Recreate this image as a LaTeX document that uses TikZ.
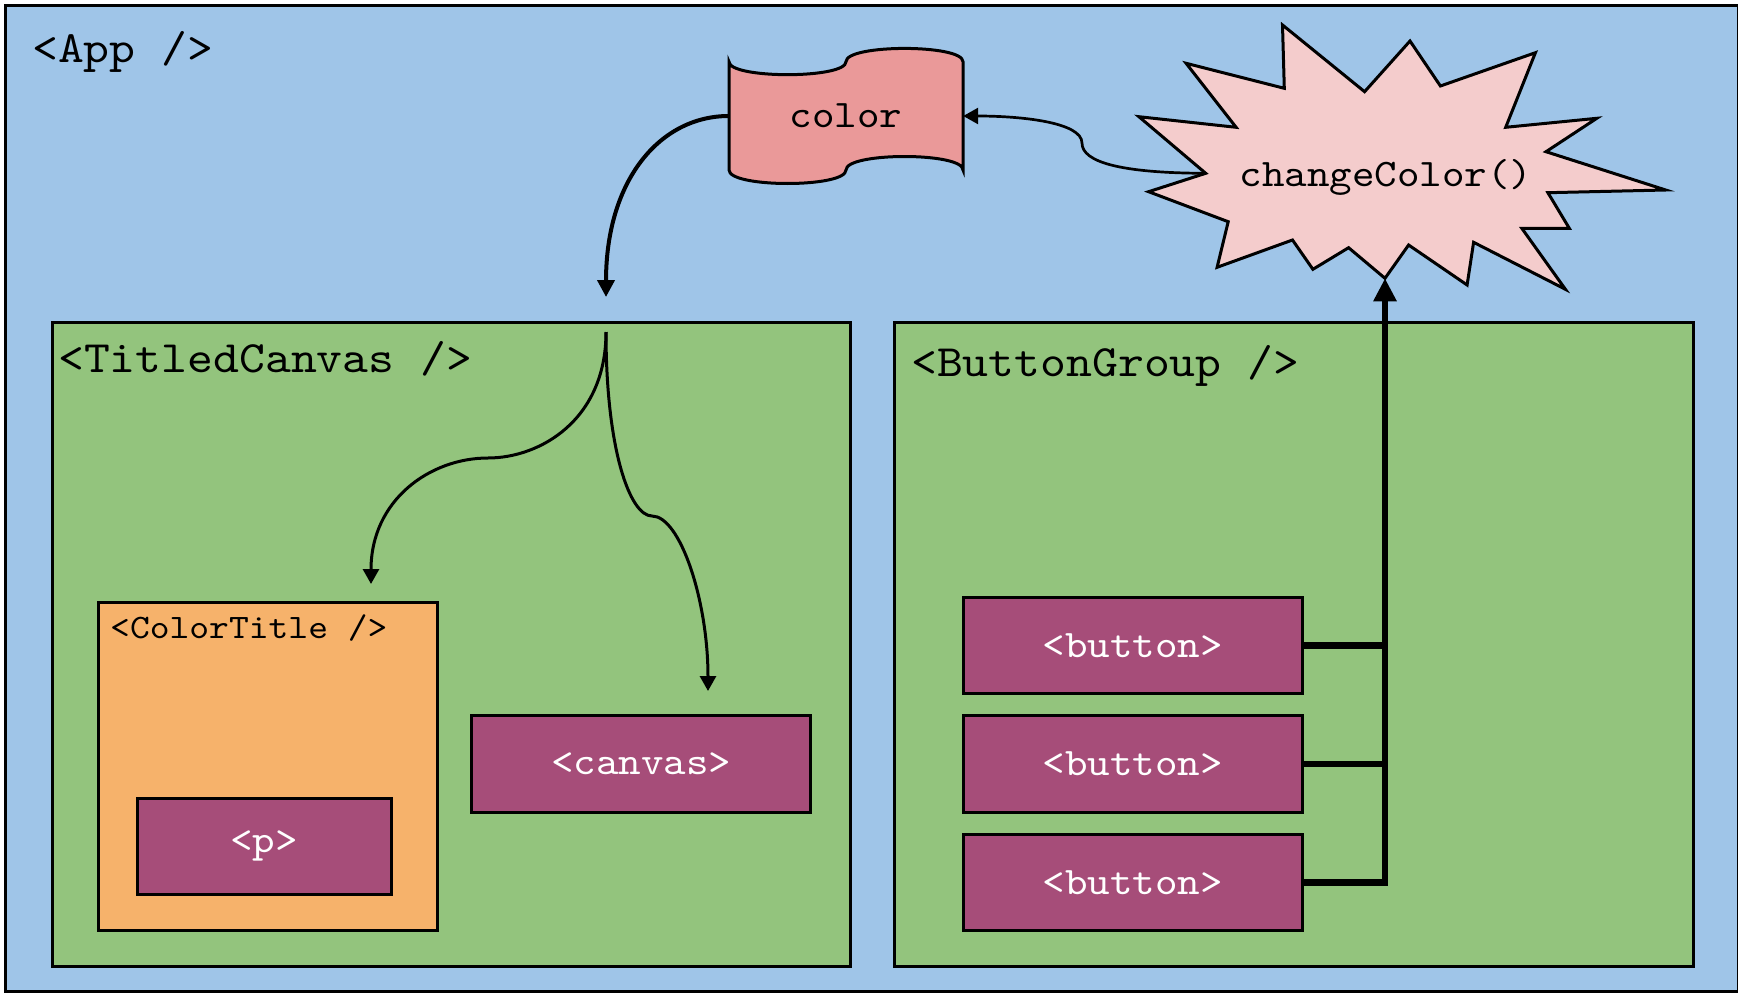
\documentclass[tikz,border=0pt]{standalone}
\usepackage{fontspec}
\setmonofont[FakeStretch=1.1]{lmmono10-regular.otf}
\usetikzlibrary{arrows.meta}

\definecolor{appblue}{HTML}{9FC5E8}
\definecolor{compgreen}{HTML}{93C47D}
\definecolor{titleorange}{HTML}{F6B26B}
\definecolor{elempurple}{HTML}{A64D79}
\definecolor{statered}{HTML}{EA9999}
\definecolor{burstpink}{HTML}{F4CCCC}

\newcommand{\titlefont}{\ttfamily\fontsize{44.8}{52}\selectfont}
\newcommand{\labelfont}{\ttfamily\fontsize{39}{46}\selectfont}
\newcommand{\smalltitlefont}{\ttfamily\fontsize{34.3}{40}\selectfont}

\begin{document}
\begin{tikzpicture}[x=1pt, y=-1pt, line join=miter,
  comp/.style={draw, line width=3pt, anchor=north west, inner sep=0pt},
  elem/.style={draw, line width=3pt, fill=elempurple, text=white, font=\labelfont,
    minimum width=339pt, minimum height=96.5pt, inner sep=0pt},
  comptitle/.style={anchor=base west, inner sep=0pt},
  flow/.style={line width=3pt, -{Triangle[length=15pt,width=16pt]}},
  bus/.style={line width=6.5pt}]
  \useasboundingbox (0,0) rectangle (1738,993);

  % Draw the components
  \node[comp, fill=appblue, minimum width=1733.5pt, minimum height=986pt] (app) at (3.5,4) {};
  \node[comptitle, font=\titlefont] (applbl) at (32,62.7) {<App />};

  \node[comp, fill=compgreen, minimum width=798pt, minimum height=644pt] (tcanvas) at (51,321) {};
  \node[comptitle, font=\titlefont] (tcanvaslbl) at (58,372) {<TitledCanvas />};

  \node[comp, fill=compgreen, minimum width=799pt, minimum height=644pt] (bgroup) at (892.5,321) {};
  \node[comptitle, font=\titlefont] (bgrouplbl) at (911,376) {<ButtonGroup />};

  \node[comp, fill=titleorange, minimum width=338.5pt, minimum height=327.5pt] (ctitle) at (97,601) {};
  \node[comptitle, font=\smalltitlefont] (ctitlelbl) at (110,638.3) {<ColorTitle />};

  % Draw the elements
  \node[elem, minimum width=254pt] (para) at (264,846.3) {<p>};
  \node[elem] (canvas) at (641.4,764) {<canvas>};
  \foreach \y/\n in {645.7/1, 764/2, 882.5/3}
    \node[elem] (btn\n) at (1132.7,\y) {<button>};

  % Draw the state
  \fill[statered] (729,61.7) .. controls (729,79) and (846,79) .. (846,61.7)
    .. controls (846,44) and (963,44) .. (963,61.7) -- (963,170)
    .. controls (963,152) and (846,152) .. (846,170)
    .. controls (846,188) and (729,188) .. (729,170) -- cycle;
  \draw[line width=3pt] (729,61.7) .. controls (729,79) and (846,79) .. (846,61.7)
    .. controls (846,44) and (963,44) .. (963,61.7) -- (963,170)
    .. controls (963,152) and (846,152) .. (846,170)
    .. controls (846,188) and (729,188) .. (729,170) -- cycle;
  \node[font=\labelfont, inner sep=0pt, minimum width=234pt, minimum height=110pt] (color) at (846,116) {color};

  % Draw the handler
  \draw[line width=3pt, fill=burstpink] (1282.5,25) -- (1364.6,91.7) -- (1410,41) -- (1440.4,86)
    -- (1535.4,52.7) -- (1505.7,127.3) -- (1596.8,118.3) -- (1546,151.7) -- (1665.7,190)
    -- (1547.9,192.7) -- (1569.3,228.3) -- (1521.8,228.3) -- (1565.4,289.3) -- (1473.6,242.3)
    -- (1467.1,285) -- (1408.6,245) -- (1385,278.3) coordinate (burst-s) -- (1348.6,247.7)
    -- (1312.9,269.3) -- (1292.5,240) -- (1217.1,267.3) -- (1228.2,221.7) -- (1148.6,191.7)
    -- (1205.7,173.3) coordinate (burst-w) -- (1138.9,116.7) -- (1236.1,127.3) -- (1186.1,63.3)
    -- (1284.3,88.3) -- cycle;
  \node[font=\labelfont, inner sep=0pt] (change) at (1386,177) {changeColor()};

  % Draw the props going down
  \coordinate (tcanvas-in) at (606,297);
  \coordinate (split) at (606,332);
  \coordinate (ctitle-in) at (371,584);
  \coordinate (canvas-in) at (708,691);
  \draw[flow, line width=4pt, -{Triangle[length=17pt,width=17pt]}] (color.west)
    .. controls (660,116) and (606,180) .. (tcanvas-in);
  \draw[flow] (split) .. controls (606,420) and (540,458) .. (488,458)
    .. controls (430,458) and (371,500) .. (ctitle-in);
  \draw[flow] (split) .. controls (606,450) and (630,516) .. (652,516)
    .. controls (680,516) and (708,600) .. (canvas-in);

  % Draw the handler updating the state
  \draw[flow, line width=2.7pt] (burst-w) .. controls (1120,173) and (1082,162) .. (1082,143)
    .. controls (1082,122) and (1020,116) .. (color.east);

  % Draw the buttons calling the handler
  \coordinate (bus-j) at (1385,882.5);
  \draw[bus, -{Triangle[length=23pt,width=22pt]}] (btn3.east) -- (bus-j) -- (burst-s);
  \foreach \n in {1,2}
    \draw[bus] (btn\n.east) -- (btn\n.east -| bus-j);
\end{tikzpicture}
\end{document}
